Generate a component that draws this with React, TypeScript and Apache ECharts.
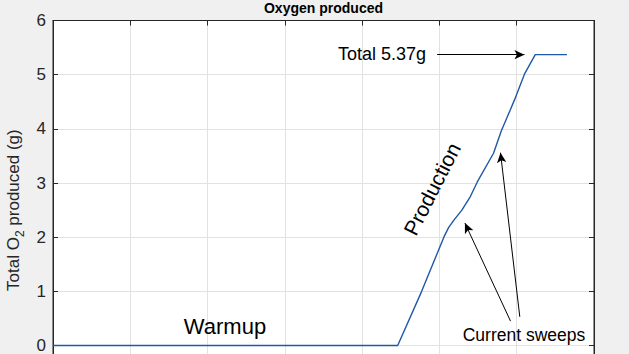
import React, { useEffect, useRef } from 'react';
import * as echarts from 'echarts';

const timeValues = [0, 4.46, 4.77, 5.06, 5.12, 5.19, 5.29, 5.4, 5.49, 5.7, 5.8, 5.97, 6.1, 6.24, 6.65];
const oxygenValues = [0, 0, 1.0, 2.01, 2.18, 2.32, 2.5, 2.75, 3.02, 3.55, 3.96, 4.53, 5.01, 5.37, 5.37];

const arrowTails = [[4.97, 5.37], [5.92, 0.45], [6.04, 0.53]];
const arrowHeads = [[6.1, 5.37], [5.33, 2.26], [5.79, 3.56]];

const Y_MIN = -1;
const Y_MAX = 6;
const X_MIN = 0;
const X_MAX = 7;

const FONT = '"Liberation Sans", Arial, Helvetica, sans-serif';
const AXIS_COLOR = '#262626';
const GRID_COLOR = '#e2e2e2';

export default function App() {
  const ref = useRef<HTMLDivElement>(null);

  useEffect(() => {
    if (!ref.current) return;
    const chart = echarts.init(ref.current, undefined, { renderer: 'svg' });

    const axisLine = { show: true, onZero: false, lineStyle: { color: AXIS_COLOR, width: 1 } };
    const tick = (c: string) => ({ show: true, inside: true, length: 5, lineStyle: { color: c, width: 1 } });

    const textEl = (text: string, x: number, y: number, fontSize: number, extra: any = {}) => ({
      type: 'text',
      x,
      y,
      z: 100,
      ...extra,
      style: {
        text,
        fontSize,
        fontFamily: FONT,
        fill: '#000000',
        textAlign: 'center',
        textVerticalAlign: 'middle',
        ...(extra.style || {}),
      },
    });

    chart.setOption({
      animation: false,
      backgroundColor: '#f0f0f0',
      textStyle: { fontFamily: FONT },
      grid: {
        left: 53,
        right: 35,
        top: 20.5,
        height: 379.2,
        show: true,
        containLabel: false,
        outerBoundsMode: 'none',
        backgroundColor: '#ffffff',
        borderColor: AXIS_COLOR,
        borderWidth: 1,
      },
      xAxis: [
        {
          type: 'value',
          min: X_MIN,
          max: X_MAX,
          interval: 1,
          position: 'bottom',
          axisLine,
          axisTick: { show: false },
          axisLabel: { show: false },
          splitLine: { show: true, lineStyle: { color: GRID_COLOR, width: 1 } },
        },
        {
          type: 'value',
          min: X_MIN,
          max: X_MAX,
          interval: 1,
          position: 'top',
          axisLine,
          axisTick: tick(AXIS_COLOR),
          axisLabel: { show: false },
          splitLine: { show: false },
        },
      ],
      yAxis: [
        {
          type: 'value',
          min: Y_MIN,
          max: Y_MAX,
          interval: 1,
          position: 'left',
          axisLine,
          axisTick: tick(AXIS_COLOR),
          axisLabel: {
            fontSize: 17,
            color: AXIS_COLOR,
            fontFamily: FONT,
            margin: 7,
            formatter: (v: number) => (v < 0 ? '' : String(v)),
          },
          splitLine: { show: true, lineStyle: { color: GRID_COLOR, width: 1 } },
          name: '{n|Total O}{s|2}{n| produced (g)}',
          nameLocation: 'middle',
          nameRotate: 90,
          nameGap: 27,
          nameTextStyle: {
            fontSize: 17,
            color: AXIS_COLOR,
            fontFamily: FONT,
            rich: {
              n: { fontSize: 17, color: AXIS_COLOR, fontFamily: FONT, lineHeight: 24 },
              s: { fontSize: 12, color: AXIS_COLOR, fontFamily: FONT, lineHeight: 14, verticalAlign: 'bottom' },
            },
          },
        },
        {
          type: 'value',
          min: Y_MIN,
          max: Y_MAX,
          interval: 1,
          position: 'right',
          axisLine,
          axisTick: tick(AXIS_COLOR),
          axisLabel: { show: false },
          splitLine: { show: false },
        },
      ],
      series: [
        {
          type: 'line',
          xAxisIndex: 0,
          yAxisIndex: 0,
          data: timeValues.map((t, i) => [t, oxygenValues[i]]),
          showSymbol: false,
          symbol: 'none',
          z: 3,
          lineStyle: { color: '#1f58a6', width: 1.4 },
          markLine: {
            silent: true,
            symbol: ['none', 'arrow'],
            symbolSize: [7, 10],
            lineStyle: { color: '#000000', width: 1, type: 'solid' },
            label: { show: false },
            emphasis: { disabled: true },
            data: arrowTails.map((tail, i) => [{ coord: tail }, { coord: arrowHeads[i] }]),
          },
        },
      ],
      graphic: [
        textEl('Oxygen produced', 323.5, 8, 14, { style: { fontWeight: 'bold' } }),
        textEl('Total 5.37g', 382, 54, 18),
        textEl('Warmup', 225, 326, 22),
        textEl('Production', 432, 189, 21, { rotation: (63 * Math.PI) / 180 }),
        textEl('Current sweeps', 524, 335, 17.5),
      ],
    });

    return () => {
      chart.dispose();
    };
  }, []);

  return (
    <div
      style={{
        position: 'absolute',
        left: 0,
        top: 0,
        width: 629,
        height: 354,
        overflow: 'hidden',
        background: '#f0f0f0',
      }}
    >
      <div ref={ref} style={{ width: 629, height: 420 }} />
    </div>
  );
}
